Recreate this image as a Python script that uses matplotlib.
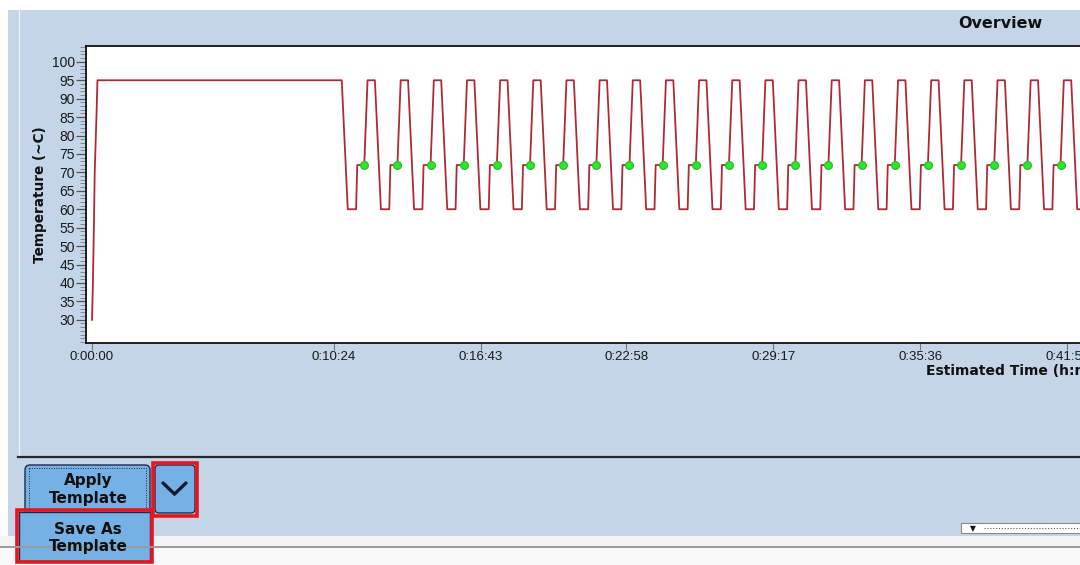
import matplotlib
matplotlib.use('Agg')
import matplotlib.pyplot as plt
from matplotlib.patches import Rectangle, FancyBboxPatch
from matplotlib.ticker import MultipleLocator, FixedLocator

# ---------------- data ----------------
initial_ramp_times = [0, 2, 5, 7, 12, 14]          # seconds
initial_ramp_temps = [30, 38, 56, 70, 87, 95]      # deg C
initial_hold_end = 644                             # end of 95 C hold (s)
cycle_offsets = [0, 15.5, 37, 40, 58, 66.5, 85.5]  # s within one cycle
cycle_temps = [95, 60, 60, 72, 72, 95, 95]         # deg C
read_offset = 58                                   # data-collection point (s)
read_temp = 72
n_cycles = 40

x_tick_seconds = [0, 624, 1003, 1378, 1757, 2136, 2515]
x_tick_labels = ['0:00:00', '0:10:24', '0:16:43', '0:22:58', '0:29:17', '0:35:36', '0:41:55']
y_ticks = [30, 35, 40, 45, 50, 55, 60, 65, 70, 75, 80, 85, 90, 95, 100]

# ---------------- build series from protocol ----------------
times = list(initial_ramp_times) + [initial_hold_end]
temps = list(initial_ramp_temps) + [cycle_temps[0]]
dot_t, dot_y = [], []
period = cycle_offsets[-1]
for c in range(n_cycles):
    start = initial_hold_end + c * period
    for off, tp in zip(cycle_offsets[1:], cycle_temps[1:]):
        times.append(start + off)
        temps.append(tp)
    dot_t.append(start + read_offset)
    dot_y.append(read_temp)

# ---------------- figure ----------------
W, H = 1080, 565
BG = '#c3d5e6'
fig = plt.figure(figsize=(W / 100, H / 100), dpi=100, facecolor=BG)

# background / UI layer in pixel coordinates
ui = fig.add_axes([0, 0, 1, 1], zorder=0)
ui.set_xlim(0, W)
ui.set_ylim(H, 0)
ui.axis('off')
ui.set_facecolor(BG)

ui.add_patch(Rectangle((0, 0), W, 10, facecolor='white', edgecolor='none'))
ui.add_patch(Rectangle((0, 0), 8, 537, facecolor='white', edgecolor='none'))
ui.plot([18.5, 18.5], [10, 457], color='#eef3f8', lw=1)
ui.plot([18, W], [457, 457], color='#262626', lw=1.6)

# bottom strip
ui.add_patch(Rectangle((0, 536), W, 30, facecolor='#f3f3f3', edgecolor='none'))
ui.plot([0, W], [547, 547], color='#9a9a9a', lw=1.4)
ui.add_patch(Rectangle((0, 548), W, 20, facecolor='#f9f9f9', edgecolor='none'))

BTN = '#76b1e6'
EDGE = '#1f2b47'
RED = '#e8141e'
TXT = '#111111'

# Apply Template button
ui.add_patch(FancyBboxPatch((25, 465), 125, 50, boxstyle='round,pad=0,rounding_size=5',
                            facecolor=BTN, edgecolor=EDGE, lw=1.0))
ui.add_patch(Rectangle((29, 468), 117, 44, facecolor='none', edgecolor=EDGE,
                       lw=0.7, linestyle=(0, (1, 1.5))))
ui.text(88, 481, 'Apply', ha='center', va='center', fontsize=11,
        fontweight='bold', family='DejaVu Sans', color=TXT)
ui.text(88, 499, 'Template', ha='center', va='center', fontsize=11,
        fontweight='bold', family='DejaVu Sans', color=TXT)

# dropdown button
ui.add_patch(FancyBboxPatch((155, 465), 40, 48, boxstyle='round,pad=0,rounding_size=4',
                            facecolor=BTN, edgecolor=EDGE, lw=1.0))
ui.add_patch(Rectangle((153, 463), 44, 53, facecolor='none', edgecolor=RED, lw=2.6))
ui.plot([163, 174.5, 186], [483, 494, 483], color='#101a33', lw=2.4,
        solid_capstyle='round', solid_joinstyle='miter')

# Save As Template button
ui.add_patch(Rectangle((19, 512), 131, 49, facecolor=BTN, edgecolor=EDGE, lw=1.0))
ui.add_patch(Rectangle((17, 510), 135, 52, facecolor='none', edgecolor=RED, lw=2.6))
ui.text(88, 529, 'Save As', ha='center', va='center', fontsize=11,
        fontweight='bold', family='DejaVu Sans', color=TXT)
ui.text(88, 547, 'Template', ha='center', va='center', fontsize=11,
        fontweight='bold', family='DejaVu Sans', color=TXT)

# small scroll control bottom right
ui.add_patch(Rectangle((961, 523), 130, 10, facecolor='white', edgecolor='#8a8a8a', lw=0.8))
ui.text(973, 528.5, '\u25BC', ha='center', va='center', fontsize=5.5, color='#111')
ui.plot([984, W], [528, 528], color='#555555', lw=0.8, linestyle=(0, (1, 1.6)))

# title
ui.text(1000, 23, 'Overview', ha='center', va='center', fontsize=11.5,
        fontweight='bold', family='DejaVu Sans', color=TXT)

# ---------------- plot axes ----------------
left_px, right_px, top_px, bot_px = 86, 1095, 46, 343
ax = fig.add_axes([left_px / W, 1 - bot_px / H, (right_px - left_px) / W,
                   (bot_px - top_px) / H], zorder=2)
ax.set_facecolor('white')

px_per_s = 0.3878
x0_px = 92
ax.set_xlim((left_px - x0_px) / px_per_s, (right_px - x0_px) / px_per_s)
ax.set_ylim(23.7, 104.3)

ax.plot(times, temps, color='#b02a36', lw=1.3, zorder=3)
ax.plot(dot_t, dot_y, linestyle='none', marker='o', markersize=5.5,
        color='#2de62d', markeredgecolor='#22cc22', zorder=4)

ax.xaxis.set_major_locator(FixedLocator(x_tick_seconds))
ax.set_xticklabels(x_tick_labels)
ax.yaxis.set_major_locator(FixedLocator(y_ticks))
ax.yaxis.set_minor_locator(MultipleLocator(1))

for s in ax.spines.values():
    s.set_color('#111111')
    s.set_linewidth(1.3)

ax.tick_params(axis='y', which='major', length=7, width=0.9, color='#555555',
               labelsize=10, labelcolor='#1a1a1a', pad=1)
ax.tick_params(axis='y', which='minor', length=4, width=0.7, color='#7a8a99')
ax.tick_params(axis='x', which='major', length=5, width=0.8, color='#777777',
               labelsize=9.5, labelcolor='#1a1a1a', pad=0.5)
for lab in ax.get_xticklabels() + ax.get_yticklabels():
    lab.set_family('Liberation Sans')

ax.set_ylabel('Temperature (~C)', fontsize=9.8, fontweight='bold',
              family='DejaVu Sans', color=TXT)
ax.yaxis.set_label_coords((47 - left_px) / (right_px - left_px), 0.5)
ax.set_xlabel('Estimated Time (h:mm:ss)', fontsize=10, fontweight='bold',
              family='DejaVu Sans', color=TXT, ha='left', va='center')
ax.xaxis.set_label_coords((926 - left_px) / (right_px - left_px),
                          (bot_px - 371) / (bot_px - top_px))

fig.savefig('out.png', dpi=100, facecolor=BG)
